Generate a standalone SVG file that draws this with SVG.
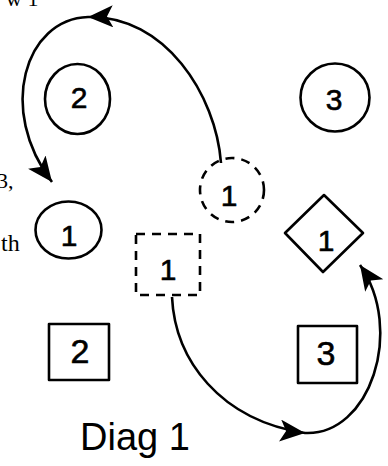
<svg xmlns="http://www.w3.org/2000/svg" width="388" height="466" viewBox="0 0 388 466">
<defs>
<style>
.sh{fill:none;stroke:#000;stroke-width:2.6;stroke-linejoin:round}
.dash{stroke-dasharray:9 7}
.num{font-family:"Liberation Sans",Arial,sans-serif;font-size:30px;text-anchor:middle;fill:#000;stroke:#000;stroke-width:0.6}
.lbl{font-family:"Liberation Serif","Times New Roman",serif;font-size:22px;fill:#000}
.cn{fill:none;stroke:#000;stroke-width:2.6;marker-mid:url(#ah);marker-end:url(#ah)}
</style>
<marker id="ah" markerUnits="userSpaceOnUse" markerWidth="30" markerHeight="24" refX="25" refY="11" orient="auto">
<path d="M0,0 L25,11 L0,22 L6,11 Z" fill="#000"/>
</marker>
</defs>
<g id="edge-labels">
<text class="lbl" x="6" y="6">w 1</text>
<text class="lbl" x="-3" y="188">3,</text>
<text class="lbl" x="1" y="251" style="font-size:24px">th</text>
</g>
<g id="connectors">
<path class="cn" d="M221,163 C216,95 165,15 88,17 C25,19 -3,110 52,182"/>
<path class="cn" d="M172,297 C175,360 220,420 305,433 C370,436 405,330 360,265"/>
</g>
<g id="circle-2">
<ellipse class="sh" cx="77.5" cy="99" rx="32.5" ry="35"/>
<text class="num" x="79" y="108">2</text>
</g>
<g id="circle-3">
<ellipse class="sh" cx="335" cy="97.5" rx="34.5" ry="34"/>
<text class="num" x="334" y="110">3</text>
</g>
<g id="circle-1">
<ellipse class="sh" cx="68.5" cy="230" rx="33" ry="28.5"/>
<text class="num" x="69" y="246">1</text>
</g>
<g id="dashed-circle-1">
<circle class="sh dash" cx="232" cy="190" r="32"/>
<text class="num" x="229" y="206">1</text>
</g>
<g id="dashed-rect-1">
<rect class="sh dash" x="136" y="234" width="64" height="61"/>
<text class="num" x="168" y="280">1</text>
</g>
<g id="diamond-1">
<path class="sh" d="M324,195 L363,233 L323,272 L285,233 Z"/>
<text class="num" x="326" y="251">1</text>
</g>
<g id="square-2">
<rect class="sh" x="49" y="324" width="60" height="56"/>
<text class="num" x="80" y="363" style="font-size:34px">2</text>
</g>
<g id="square-3">
<rect class="sh" x="298" y="326" width="59" height="57"/>
<text class="num" x="326" y="365" style="font-size:34px">3</text>
</g>
<g id="caption">
<text class="num" x="80" y="450" style="font-size:38px;text-anchor:start;stroke-width:0">Diag 1</text>
</g>
</svg>
